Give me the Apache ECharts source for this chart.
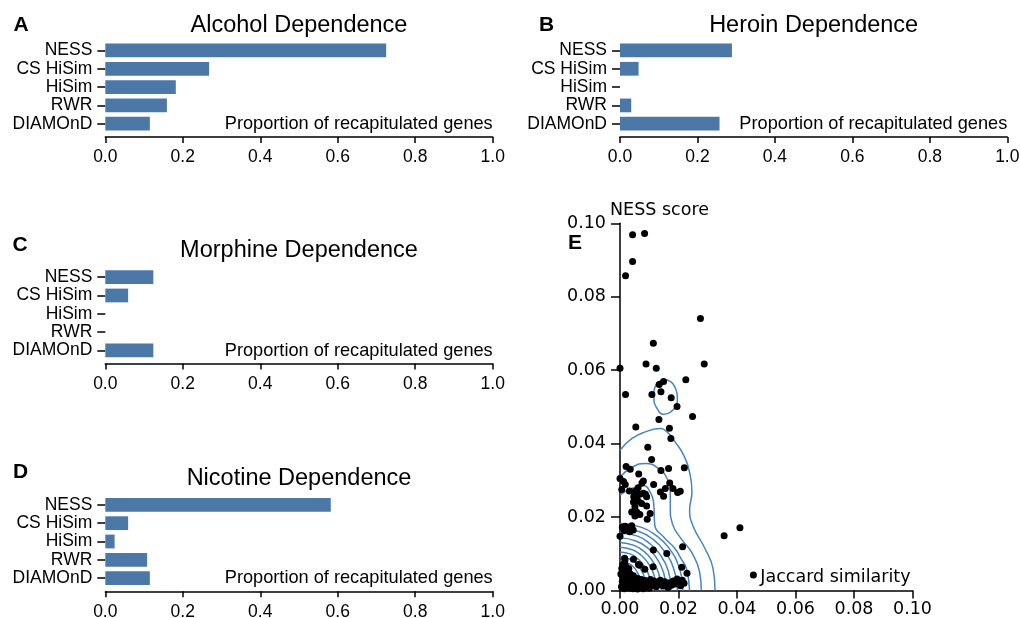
<!DOCTYPE html>
<html>
<head>
<meta charset="utf-8">
<script src="https://cdn.jsdelivr.net/npm/echarts@6/dist/echarts.min.js"></script>
<style>html,body{margin:0;padding:0;background:#fff}#c{width:1020px;height:618px}</style>
</head>
<body>
<div id="c"></div>
<script>
// ---------- data ----------
const categories = ['NESS', 'CS HiSim', 'HiSim', 'RWR', 'DIAMOnD'];
const alcohol  = [0.725, 0.268, 0.182, 0.159, 0.115];
const heroin   = [0.289, 0.048, 0.000, 0.029, 0.257];
const morphine = [0.124, 0.059, 0.000, 0.000, 0.124];
const nicotine = [0.582, 0.059, 0.024, 0.108, 0.115];
const panelTitles = ['Alcohol Dependence', 'Heroin Dependence', 'Morphine Dependence', 'Nicotine Dependence'];
const panelLetters = ['A', 'B', 'C', 'D', 'E'];
const barAxisName = 'Proportion of recapitulated genes';
const scatterXName = 'Jaccard similarity';
const scatterYName = 'NESS score';

// scatter: [Jaccard similarity, NESS score]
const nessVsJaccard = [
  [0.0043,0.0969],[0.0084,0.0972],[0.0043,0.0896],[0.0019,0.0857],[0.0275,0.0741],[0.0114,0.0673],
  [0.0089,0.0617],[0.0124,0.0605],[0.0288,0.0617],[0.0000,0.0605],[0.0225,0.0574],[0.0149,0.0569],
  [0.0134,0.0561],[0.0140,0.0541],[0.0109,0.0534],[0.0019,0.0534],[0.0175,0.0525],[0.0195,0.0501],
  [0.0133,0.0466],[0.0248,0.0474],[0.0054,0.0445],[0.0169,0.0442],[0.0174,0.0414],[0.0095,0.0390],
  [0.0108,0.0357],[0.0021,0.0338],[0.0035,0.0330],[0.0140,0.0327],[0.0166,0.0332],[0.0220,0.0334],
  [0.0064,0.0317],[0.0018,0.0289],[0.0075,0.0293],[0.0115,0.0289],[0.0170,0.0293],[0.0062,0.0280],
  [0.0032,0.0271],[0.0155,0.0278],[0.0181,0.0278],[0.0138,0.0268],[0.0197,0.0267],[0.0206,0.0270],
  [0.0149,0.0257],[0.0087,0.0262],[0.0047,0.0255],[0.0006,0.0275],[0.0000,0.0305],[0.0012,0.0297],
  [0.0080,0.0298],[0.0051,0.0270],[0.0057,0.0257],[0.0068,0.0262],[0.0080,0.0265],[0.0091,0.0255],
  [0.0050,0.0248],[0.0063,0.0243],[0.0074,0.0237],[0.0046,0.0241],[0.0051,0.0228],[0.0091,0.0230],
  [0.0057,0.0214],[0.0040,0.0214],[0.0051,0.0203],[0.0068,0.0207],[0.0103,0.0210],[0.0093,0.0194],
  [0.0008,0.0172],[0.0018,0.0175],[0.0030,0.0170],[0.0040,0.0176],[0.0045,0.0165],[0.0033,0.0160],
  [0.0015,0.0163],[0.0000,0.0148],
  [0.0214,0.0119],[0.0356,0.0149],[0.0410,0.0171],[0.0456,0.0042],[0.0114,0.0110],[0.0160,0.0101],
  [0.0211,0.0063],[0.0229,0.0047],
  [0.0046,0.0085],[0.0017,0.0083],[0.0016,0.0088],[0.0018,0.0069],[0.0063,0.0071],[0.0085,0.0058],
  [0.0113,0.0065],[0.0067,0.0069],[0.0030,0.0060],[0.0012,0.0055],[0.0022,0.0048],
  [0.0005,0.0010],[0.0008,0.0025],[0.0010,0.0038],[0.0013,0.0015],[0.0016,0.0030],[0.0018,0.0008],
  [0.0021,0.0020],[0.0024,0.0035],[0.0026,0.0012],[0.0029,0.0026],[0.0032,0.0006],[0.0034,0.0018],
  [0.0037,0.0032],[0.0040,0.0010],[0.0043,0.0024],[0.0046,0.0040],[0.0049,0.0015],[0.0052,0.0028],
  [0.0055,0.0008],[0.0058,0.0020],[0.0061,0.0033],[0.0064,0.0012],[0.0067,0.0025],[0.0070,0.0017],
  [0.0073,0.0030],[0.0076,0.0009],[0.0079,0.0022],[0.0083,0.0014],[0.0086,0.0027],[0.0090,0.0019],
  [0.0093,0.0011],[0.0097,0.0024],[0.0100,0.0016],[0.0104,0.0030],[0.0108,0.0021],[0.0112,0.0013],
  [0.0116,0.0026],[0.0120,0.0018],[0.0124,0.0010],[0.0128,0.0023],[0.0133,0.0016],[0.0138,0.0028],
  [0.0143,0.0020],[0.0148,0.0012],[0.0153,0.0024],[0.0158,0.0017],[0.0164,0.0008],[0.0170,0.0021],
  [0.0176,0.0014],[0.0182,0.0026],[0.0188,0.0018],[0.0195,0.0031],[0.0201,0.0022],[0.0207,0.0013],
  [0.0213,0.0028],[0.0219,0.0020],
  [0.0003,0.0045],[0.0006,0.0060],[0.0009,0.0070],[0.0025,0.0050],[0.0035,0.0045],[0.0015,0.0005],
  [0.0045,0.0005],[0.0060,0.0004],[0.0080,0.0005],[0.0100,0.0006]
];

// density contour lines: [Jaccard, NESS]
const contourIsland = [[0.0160,0.0574],[0.0185,0.0558],[0.0196,0.0518],[0.0182,0.0492],[0.0150,0.0480],
  [0.0125,0.0498],[0.0116,0.0527],[0.0125,0.0563],[0.0160,0.0574]];
const contour1 = [[0.0000,0.0382],[0.0041,0.0414],[0.0087,0.0432],[0.0138,0.0441],[0.0161,0.0432],
  [0.0189,0.0404],[0.0218,0.0368],[0.0240,0.0314],[0.0246,0.0268],[0.0238,0.0220],[0.0250,0.0175],
  [0.0290,0.0115],[0.0318,0.0060],[0.0325,0.0000]];
const contour2 = [[0.0000,0.0309],[0.0040,0.0335],[0.0087,0.0346],[0.0132,0.0332],[0.0161,0.0305],
  [0.0172,0.0268],[0.0172,0.0225],[0.0180,0.0180],[0.0210,0.0140],[0.0244,0.0105],[0.0272,0.0051],
  [0.0278,0.0000]];
const contour3 = [[0.0000,0.0260],[0.0040,0.0278],[0.0080,0.0285],[0.0105,0.0265],[0.0115,0.0238],
  [0.0119,0.0178],[0.0150,0.0145],[0.0187,0.0115],[0.0210,0.0085],[0.0227,0.0060],[0.0238,0.0000]];
const contour4  = [[0.0215,0],[0.0202,0.0063],[0.0165,0.0118],[0.0123,0.0150],[0.0074,0.0172],[0,0.0183]];
const contour5  = [[0.0196,0],[0.0184,0.0058],[0.0150,0.0109],[0.0113,0.0139],[0.0067,0.0160],[0,0.0170]];
const contour6  = [[0.0175,0],[0.0165,0.0054],[0.0134,0.0101],[0.0100,0.0129],[0.0060,0.0148],[0,0.0157]];
const contour7  = [[0.0158,0],[0.0149,0.0049],[0.0121,0.0093],[0.0091,0.0118],[0.0054,0.0135],[0,0.0144]];
const contour8  = [[0.0141,0],[0.0133,0.0045],[0.0108,0.0084],[0.0081,0.0107],[0.0048,0.0123],[0,0.0131]];
const contour9  = [[0.0124,0],[0.0117,0.0040],[0.0095,0.0076],[0.0071,0.0097],[0.0042,0.0111],[0,0.0118]];
const contour10 = [[0.0107,0],[0.0101,0.0036],[0.0082,0.0068],[0.0061,0.0086],[0.0037,0.0099],[0,0.0105]];
const contour11 = [[0.0092,0],[0.0086,0.0031],[0.0070,0.0059],[0.0053,0.0075],[0.0031,0.0086],[0,0.0092]];
const contour12 = [[0.0076,0],[0.0071,0.0027],[0.0058,0.0051],[0.0044,0.0066],[0.0026,0.0075],[0,0.0080]];
const contour13 = [[0.0062,0],[0.0058,0.0023],[0.0047,0.0044],[0.0036,0.0056],[0.0021,0.0064],[0,0.0068]];
const contour14 = [[0.0048,0],[0.0045,0.0019],[0.0037,0.0036],[0.0028,0.0046],[0.0016,0.0053],[0,0.0056]];
const contour15 = [[0.0033,0],[0.0031,0.0015],[0.0025,0.0028],[0.0019,0.0036],[0.0011,0.0041],[0,0.0044]];
const contour16 = [[0.0018,0],[0.0017,0.0011],[0.0014,0.0021],[0.0010,0.0026],[0.0006,0.0030],[0,0.0032]];
const contours = [contourIsland, contour1, contour2, contour3, contour4, contour5, contour6, contour7,
  contour8, contour9, contour10, contour11, contour12, contour13, contour14, contour15, contour16];

// ---------- layout / style ----------
const SANS = 'Liberation Sans, Arial, Helvetica, sans-serif';
const DJV = 'DejaVu Sans, sans-serif';
const BAR_COLOR = '#4c78a8';
const LINE_COLOR = '#4a84bd';
const barGrids = [
  {left: 105.3, top: 41.3, width: 387.4, height: 91.6},
  {left: 620,   top: 41.3, width: 387.3, height: 91.6},
  {left: 105.3, top: 268,  width: 387.4, height: 91.6},
  {left: 105.3, top: 495.7, width: 387.4, height: 91.6}
];
const scatterGrid = {left: 620, top: 223.3, width: 292.5, height: 367.2};
const titleY = [25.5, 25.5, 251, 478.5];
const letterPos = [[21, 25.5], [546.5, 25.5], [20, 245], [20.5, 472.5], [575, 243.5]];
const barSeriesData = [alcohol, heroin, morphine, nicotine];

const grids = [], xAxes = [], yAxes = [], series = [], graphics = [];
barGrids.forEach((g, i) => {
  grids.push(Object.assign({containLabel: false, outerBoundsMode: 'none'}, g));
  xAxes.push({
    gridIndex: i, type: 'value', min: 0, max: 1, interval: 0.2, offset: 4,
    axisLine: {show: true, lineStyle: {color: '#000', width: 1.5}},
    axisTick: {show: true, length: 6, lineStyle: {color: '#000', width: 1.5}},
    axisLabel: {fontSize: 17.5, fontFamily: SANS, color: '#000', margin: 11.5,
      formatter: v => v.toFixed(1), showMinLabel: true, showMaxLabel: true},
    splitLine: {show: false},
    name: barAxisName, nameLocation: 'end', nameGap: 0,
    nameTextStyle: {fontSize: 18.2, fontFamily: SANS, color: '#000', align: 'right',
      verticalAlign: 'bottom', padding: [0, 0, 4, 0]}
  });
  yAxes.push({
    gridIndex: i, type: 'category', data: categories, inverse: true, offset: 2,
    axisLine: {show: false},
    axisTick: {show: true, length: 8, alignWithLabel: true, interval: 0, lineStyle: {color: '#000', width: 1.5}},
    axisLabel: {fontSize: 17.5, fontFamily: SANS, color: '#000', margin: 11, interval: 0},
    splitLine: {show: false}
  });
  series.push({
    type: 'bar', xAxisIndex: i, yAxisIndex: i, data: barSeriesData[i],
    barCategoryGap: '25%', itemStyle: {color: BAR_COLOR, borderWidth: 0},
    silent: true
  });
  graphics.push({type: 'text', x: g.left + g.width / 2, y: titleY[i],
    style: {text: panelTitles[i], fontSize: 23.5, fontFamily: SANS, fill: '#000',
      align: 'center', verticalAlign: 'middle'}});
});
letterPos.forEach((p, i) => {
  graphics.push({type: 'text', x: p[0], y: p[1],
    style: {text: panelLetters[i], fontSize: 21, fontWeight: 'bold', fontFamily: SANS, fill: '#000',
      align: 'center', verticalAlign: 'middle'}});
});

// scatter panel
grids.push(Object.assign({containLabel: false, outerBoundsMode: 'none'}, scatterGrid));
xAxes.push({
  gridIndex: 4, type: 'value', min: 0, max: 0.1, interval: 0.02,
  axisLine: {show: true, lineStyle: {color: '#000', width: 1.5}},
  axisTick: {show: true, length: 8, lineStyle: {color: '#000', width: 1.5}},
  axisLabel: {fontSize: 17.5, fontFamily: DJV, color: '#000', margin: 10,
    formatter: v => v.toFixed(2), showMinLabel: true, showMaxLabel: true},
  splitLine: {show: false},
  name: scatterXName, nameLocation: 'end', nameGap: -2,
  nameTextStyle: {fontSize: 17.5, fontFamily: DJV, color: '#000', align: 'right',
    verticalAlign: 'bottom', padding: [0, 0, 4, 0]}
});
yAxes.push({
  gridIndex: 4, type: 'value', min: 0, max: 0.1, interval: 0.02,
  axisLine: {show: true, lineStyle: {color: '#000', width: 1.5}},
  axisTick: {show: true, length: 9, lineStyle: {color: '#000', width: 1.5}},
  axisLabel: {fontSize: 17.5, fontFamily: DJV, color: '#000', margin: 14,
    formatter: v => v.toFixed(2), showMinLabel: true, showMaxLabel: true},
  splitLine: {show: false},
  name: scatterYName, nameLocation: 'end', nameGap: 4,
  nameTextStyle: {fontSize: 17.5, fontFamily: DJV, color: '#000', align: 'center',
    verticalAlign: 'bottom', padding: [0, 0, 0, 79]}
});
contours.forEach(c => {
  series.push({type: 'line', xAxisIndex: 4, yAxisIndex: 4, data: c, smooth: 0.5,
    showSymbol: false, symbol: 'none', silent: true, clip: true,
    lineStyle: {color: LINE_COLOR, width: 1.5}});
});
series.push({type: 'scatter', xAxisIndex: 4, yAxisIndex: 4, data: nessVsJaccard,
  symbolSize: 7, itemStyle: {color: '#000', opacity: 1}, silent: true, z: 5, clip: false});

const chart = echarts.init(document.getElementById('c'), null, {renderer: 'canvas'});
chart.setOption({
  animation: false,
  backgroundColor: '#fff',
  grid: grids, xAxis: xAxes, yAxis: yAxes, series: series,
  graphic: graphics
});
</script>
</body>
</html>
